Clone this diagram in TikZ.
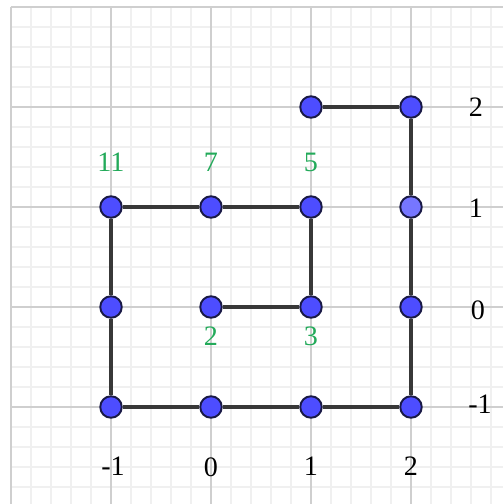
\documentclass[tikz,border=0pt]{standalone}
\usepackage{fontspec}
\setmainfont{Liberation Serif}
\begin{document}
\begin{tikzpicture}[x=1cm,y=1cm,
  minorgrid/.style={draw=black!6,line width=0.35pt},
  majorgrid/.style={draw=black!19,line width=0.6pt},
  edge/.style={draw=black!78,line width=1.35pt},
  pt/.style={circle,draw=ptborder,line width=0.55pt,fill=ptblue,minimum size=0.215cm,inner sep=0pt},
  ptlight/.style={pt,fill=ptlightblue},
  glabel/.style={text=lblgreen,font=\fontsize{8pt}{9.6pt}\selectfont,inner sep=0pt},
  alabel/.style={text=black,font=\fontsize{8pt}{9.6pt}\selectfont,inner sep=0pt}]
\definecolor{ptblue}{RGB}{77,77,255}
\definecolor{ptlightblue}{RGB}{118,118,255}
\definecolor{ptborder}{RGB}{25,25,70}
\definecolor{lblgreen}{RGB}{35,170,90}
\useasboundingbox (-2.11,-1.97) rectangle (2.92,3.07);
\fill[white] (-2.11,-1.97) rectangle (2.92,3.07);
\draw[minorgrid] (-2,-1.97) grid[step=0.2] (2.92,3);
\draw[majorgrid] (-2,-1.97) grid[step=1] (2.92,3);
% points
\node[pt] (a) at (1,2) {};
\node[pt] (b) at (2,2) {};
\node[pt] (c) at (-1,1) {};
\node[pt] (d) at (0,1) {};
\node[pt] (e) at (1,1) {};
\node[ptlight] (f) at (2,1) {};
\node[pt] (g) at (-1,0) {};
\node[pt] (h) at (0,0) {};
\node[pt] (i) at (1,0) {};
\node[pt] (j) at (2,0) {};
\node[pt] (k) at (-1,-1) {};
\node[pt] (l) at (0,-1) {};
\node[pt] (m) at (1,-1) {};
\node[pt] (n) at (2,-1) {};
% edges
\draw[edge] (a) -- (b);
\draw[edge] (b) -- (f);
\draw[edge] (f) -- (j);
\draw[edge] (j) -- (n);
\draw[edge] (c) -- (d);
\draw[edge] (d) -- (e);
\draw[edge] (e) -- (i);
\draw[edge] (h) -- (i);
\draw[edge] (c) -- (g);
\draw[edge] (g) -- (k);
\draw[edge] (k) -- (l);
\draw[edge] (l) -- (m);
\draw[edge] (m) -- (n);
% green labels
\node[glabel] (l11) at (-1,1.45) {11};
\node[glabel] (l7) at (0,1.45) {7};
\node[glabel] (l5) at (1,1.45) {5};
\node[glabel] (l2) at (0,-0.29) {2};
\node[glabel] (l3) at (1,-0.29) {3};
% axis labels
\node[alabel] (xm1) at (-0.98,-1.59) {-1};
\node[alabel] (x0) at (0,-1.6) {0};
\node[alabel] (x1) at (1,-1.59) {1};
\node[alabel] (x2) at (2,-1.59) {2};
\node[alabel] (y2) at (2.65,2) {2};
\node[alabel] (y1) at (2.65,0.99) {1};
\node[alabel] (y0) at (2.67,-0.03) {0};
\node[alabel] (ym1) at (2.69,-0.97) {-1};
\end{tikzpicture}
\end{document}
